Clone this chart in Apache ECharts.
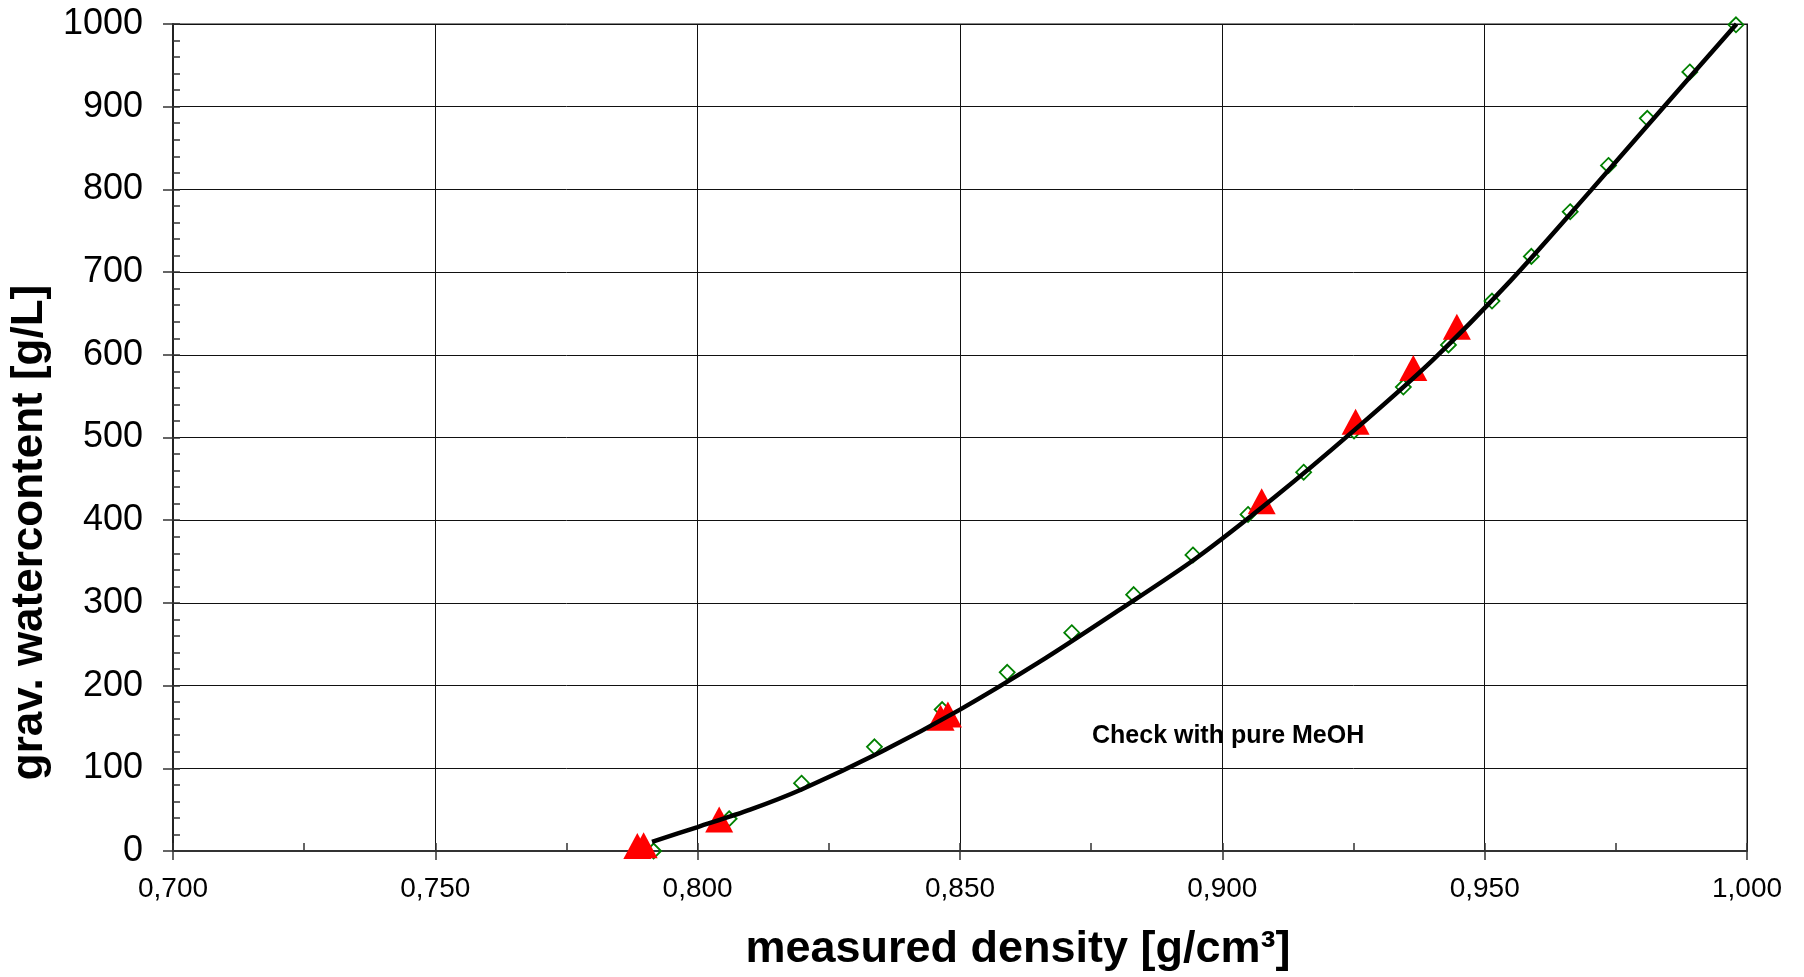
<!DOCTYPE html>
<html>
<head>
<meta charset="utf-8">
<title>density vs watercontent</title>
<script src="https://cdn.jsdelivr.net/npm/echarts@6/dist/echarts.min.js"></script>
<style>
  html, body { margin: 0; padding: 0; background: #fff; }
  #Chart { width: 1804px; height: 977px; }
</style>
</head>
<body>
<div id="Chart"></div>
<script>
// calibration points (green diamonds)
var calDensity = [0.7916, 0.8060, 0.8198, 0.8337, 0.8466, 0.8590, 0.8713, 0.8831, 0.8944, 0.9049, 0.9155, 0.9251,
                  0.9345, 0.9431, 0.9514, 0.9589, 0.9663, 0.9736, 0.9810, 0.9891, 0.9979];
var calWater = [0, 39, 82, 126, 171, 216, 264, 310, 358, 407, 458, 508,
                561, 612, 665, 719, 773, 829, 886, 942, 999];

// measured samples (red triangles)
var sampleDensity = [0.7885, 0.7897, 0.8041, 0.8463, 0.8477, 0.9075, 0.9254, 0.9364, 0.9447];
var sampleWater = [6, 7, 38, 161, 165, 423, 519, 584, 634];

// fitted curve
var fitDensity = [0.7913, 0.800, 0.810, 0.820, 0.835, 0.850, 0.865, 0.880, 0.895, 0.910,
                  0.925, 0.940, 0.955, 0.970, 0.985, 0.998];
var fitWater = [11, 29, 50, 75, 120, 171, 228, 290, 354, 428,
                508, 593, 690, 797, 906, 1000];

var xTicks = [0.70, 0.75, 0.80, 0.85, 0.90, 0.95, 1.00];
var yTicks = [0, 100, 200, 300, 400, 500, 600, 700, 800, 900, 1000];

function pairs(a, b) {
  var out = [];
  for (var i = 0; i < a.length; i++) out.push([a[i], b[i]]);
  return out;
}

var font = 'Liberation Sans, Arial, sans-serif';
var chart = echarts.init(document.getElementById('Chart'));

var option = {
  animation: false,
  textStyle: { fontFamily: font },
  grid: {
    left: 170, right: 57, top: 24, bottom: 123,
    show: true,
    borderColor: '#888',
    borderWidth: 2
  },
  graphic: [{
    type: 'text',
    left: 1092,
    top: 724,
    style: {
      text: 'Check with pure MeOH',
      fontFamily: font,
      fontSize: 25,
      fontWeight: 'bold',
      fill: '#000'
    }
  }],
  xAxis: [
    {
      type: 'value',
      position: 'bottom',
      min: xTicks[0],
      max: xTicks[xTicks.length - 1],
      interval: 0.05,
      name: 'measured density [g/cm³]',
      nameLocation: 'middle',
      nameGap: 76,
      nameTextStyle: { fontSize: 45, fontWeight: 'bold', color: '#000', fontFamily: font, padding: [0, 0, 0, 116] },
      axisLine: { show: true, onZero: false, lineStyle: { color: '#333', width: 2 } },
      axisTick: { show: true, inside: false, length: 9, lineStyle: { color: '#333', width: 1.5 } },
      axisLabel: {
        fontSize: 28, color: '#000', margin: 24, fontFamily: font,
        formatter: function (v) { return v.toFixed(3).replace('.', ','); }
      },
      splitLine: { show: true, lineStyle: { color: '#111', width: 1 } }
    },
    {
      // minor ticks, pointing inside
      type: 'value',
      position: 'bottom',
      min: xTicks[0],
      max: xTicks[xTicks.length - 1],
      interval: 0.025,
      axisLine: { show: false },
      axisTick: { show: true, inside: true, length: 8, lineStyle: { color: '#333', width: 1.5 } },
      axisLabel: { show: false },
      splitLine: { show: false }
    }
  ],
  yAxis: [
    {
      type: 'value',
      position: 'left',
      min: yTicks[0],
      max: yTicks[yTicks.length - 1],
      interval: 100,
      name: 'grav. watercontent [g/L]',
      nameLocation: 'middle',
      nameGap: 108,
      nameTextStyle: { fontSize: 44, fontWeight: 'bold', color: '#000', fontFamily: font, padding: [0, 190, 0, 0] },
      axisLine: { show: true, onZero: false, lineStyle: { color: '#222', width: 2 } },
      axisTick: { show: true, inside: false, length: 10, lineStyle: { color: '#333', width: 1.5 } },
      axisLabel: {
        fontSize: 36, color: '#000', margin: 30, fontFamily: font,
        formatter: function (v) { return String(v); }
      },
      splitLine: { show: true, lineStyle: { color: '#111', width: 1 } }
    },
    {
      type: 'value',
      position: 'left',
      min: yTicks[0],
      max: yTicks[yTicks.length - 1],
      interval: 20,
      axisLine: { show: false },
      axisTick: { show: true, inside: true, length: 7, lineStyle: { color: '#333', width: 1.5 } },
      axisLabel: { show: false },
      splitLine: { show: false }
    }
  ],
  series: [
    {
      name: 'calibration',
      type: 'scatter',
      symbol: 'diamond',
      symbolSize: 15,
      itemStyle: { color: 'rgba(255,255,255,0)', borderColor: '#008000', borderWidth: 1.8, opacity: 1 },
      data: pairs(calDensity, calWater),
      z: 2
    },
    {
      name: 'samples',
      type: 'scatter',
      symbol: 'triangle',
      symbolSize: [28, 26],
      itemStyle: { color: '#ff0000', opacity: 1 },
      data: pairs(sampleDensity, sampleWater),
      z: 3
    },
    {
      name: 'fit',
      type: 'line',
      smooth: 0.3,
      showSymbol: false,
      lineStyle: { color: '#000', width: 4.5 },
      data: pairs(fitDensity, fitWater),
      z: 4
    }
  ]
};
chart.setOption(option);
</script>
</body>
</html>
